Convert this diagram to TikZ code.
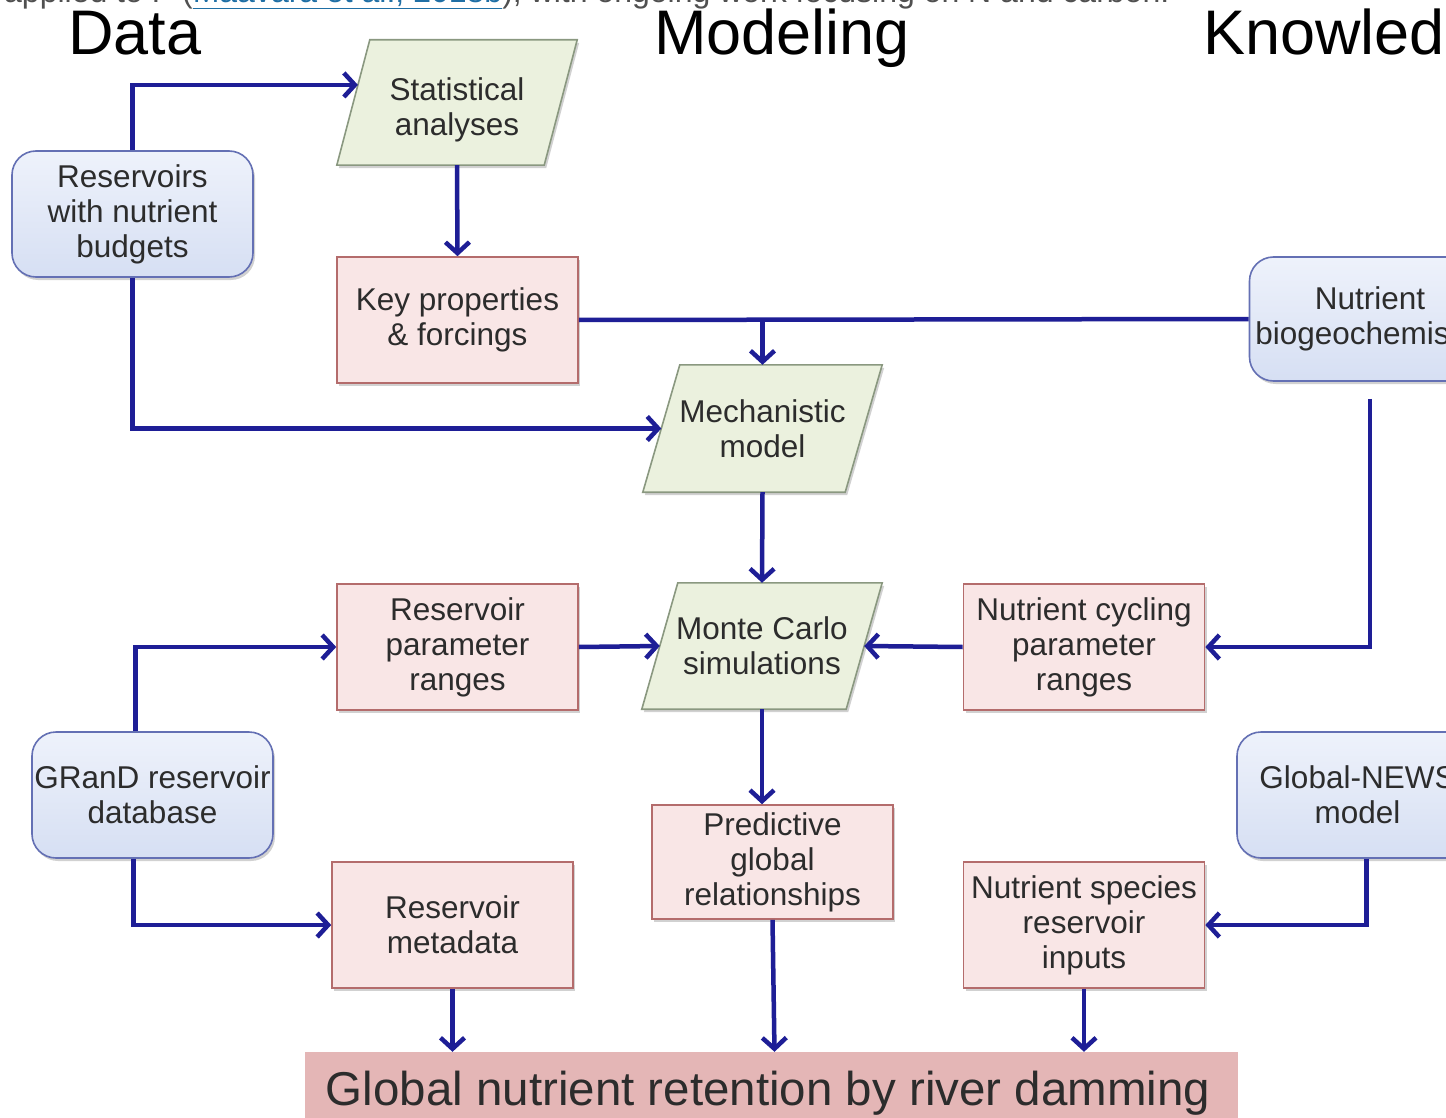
\documentclass[tikz,border=0pt]{standalone}
\usepackage{fontspec}
\setmainfont{Liberation Sans}
\usetikzlibrary{arrows.meta,calc,shadows,backgrounds}
\definecolor{arrowblue}{HTML}{1E1E96}
\definecolor{txt}{HTML}{2C2C2C}
\definecolor{pinkfill}{HTML}{F9E6E6}
\definecolor{pinkline}{HTML}{B46C6C}
\definecolor{bluetop}{HTML}{EEF2FB}
\definecolor{bluebot}{HTML}{D6DFF3}
\definecolor{blueline}{HTML}{6470B4}
\definecolor{greenfill}{HTML}{EBF1DE}
\definecolor{greenline}{HTML}{8A9880}
\definecolor{barfill}{HTML}{E4B6B6}
\definecolor{toptext}{HTML}{505050}
\definecolor{linkblue}{HTML}{1F6FA5}
\begin{document}
\begin{tikzpicture}[x=1pt,y=-1pt,
  soft/.style={drop shadow={shadow xshift=2pt,shadow yshift=-3pt,opacity=0.18,fill=black}},
  box/.style={rectangle,minimum width=241pt,minimum height=126pt,align=center,
    font=\fontsize{31.5}{35}\selectfont,text=txt,inner sep=0pt},
  pinkbox/.style={box,draw=pinkline,fill=pinkfill,line width=1.6pt,soft},
  bluebox/.style={box,rounded corners=24pt,draw=blueline,top color=bluetop,bottom color=bluebot,line width=1.6pt,soft},
  parabox/.style={box},
  parashape/.style={draw=greenline,fill=greenfill,line width=1.6pt,soft},
  conn/.style={draw=arrowblue,line width=4.5pt,line join=miter},
  arr/.style={conn,-{Straight Barb[length=11pt,width=24pt,line width=4.5pt]}},
  title/.style={font=\fontsize{63}{70}\selectfont,text=black,anchor=base,inner sep=0pt}
]
\useasboundingbox (0,0) rectangle (1446,1118);
\clip (0,0) rectangle (1446,1118);

% cut-off line of text at the top
\node[anchor=base west,inner sep=0pt,font=\fontsize{32}{36}\selectfont,text=toptext] (topline) at (4,3)
  {applied to P (\textcolor{linkblue}{\underline{Maavara et al., 2018b}}), with ongoing work focusing on N and carbon.};

% column titles
\node[title] (tdata) at (135,55) {Data};
\node[title] (tmodel) at (782,55) {Modeling};
\node[title,anchor=base west] (tknow) at (1203,55) {Knowledge};

% nodes
\node[bluebox] (resv) at (132.5,214) {Reservoirs\\with nutrient\\budgets};
\node[parabox] (stat) at (457,102.5) [minimum width=240pt,minimum height=125pt] {};
\node[box,minimum width=0pt,minimum height=0pt] (stattext) at (457,110) {Statistical\\analyses};
\node[pinkbox] (key) at (457.5,320) {\raisebox{-4pt}{Key properties}\\\raisebox{-4pt}{\& forcings}};
\node[bluebox] (nutbio) at (1370,319) [minimum height=124pt] {\raisebox{-4pt}{Nutrient}\\\raisebox{-4pt}{biogeochemistry}};
\node[parabox] (mech) at (762.5,428.5) [minimum width=239pt,minimum height=127pt] {\raisebox{-3pt}{Mechanistic}\\\raisebox{-3pt}{model}};
\node[parabox] (monte) at (762,646) [minimum width=240pt] {Monte Carlo\\simulations};
\node[pinkbox] (rparam) at (457.5,647) {Reservoir\\parameter\\ranges};
\node[pinkbox] (ncyc) at (1084,647) {Nutrient cycling\\parameter\\ranges};
\node[bluebox] (grand) at (152.5,795) {GRanD reservoir\\database};
\node[bluebox] (gnews) at (1357.5,795) {Global-NEWS\\model};
\node[pinkbox] (pred) at (772.5,862) [minimum height=114pt] {Predictive\\global\\relationships};
\node[pinkbox] (rmeta) at (452.5,925) {Reservoir\\metadata};
\node[pinkbox] (nspec) at (1084,925) {Nutrient species\\reservoir\\inputs};
\node[rectangle,fill=barfill,minimum width=933pt,minimum height=100pt,inner sep=0pt] (bar) at (771.5,1102) {};
\node[anchor=base,inner sep=0pt,font=\fontsize{47.5}{52}\selectfont,text=txt] (bartext) at (768,1105) {Global nutrient retention by river damming};

% white page and parallelogram outlines behind the texts
\begin{scope}[on background layer]
\fill[white] (0,0) rectangle (1446,1118);
\draw[parashape] ([xshift=33pt]stat.north west) -- (stat.north east) -- ([xshift=-33pt]stat.south east) -- (stat.south west) -- cycle;
\draw[parashape] ([xshift=37pt]mech.north west) -- (mech.north east) -- ([xshift=-37pt]mech.south east) -- (mech.south west) -- cycle;
\draw[parashape] ([xshift=36pt]monte.north west) -- (monte.north east) -- ([xshift=-36pt]monte.south east) -- (monte.south west) -- cycle;
\end{scope}

% entry points on parallelogram edges
\coordinate (statin) at ($(stat.south west)!0.64!([xshift=33pt]stat.north west)$);
\coordinate (mechin) at ($(mech.south west)!0.5!([xshift=37pt]mech.north west)$);
\coordinate (montein) at ($(monte.south west)!0.5!([xshift=36pt]monte.north west)$);
\coordinate (monteout) at ($(monte.north east)!0.5!([xshift=-36pt]monte.south east)$);
\coordinate (branch) at (mech.north |- key.east);
\coordinate (nbstart) at ([yshift=-17pt]nutbio.south);
\coordinate (grandtop) at ([xshift=-17pt]grand.north);
\coordinate (grandbot) at ([xshift=-19pt]grand.south);
\coordinate (gnewsbot) at ([xshift=9pt]gnews.south);

% connectors
\draw[arr] (resv.north) |- (statin);
\draw[arr] (stat.south) -- (key.north);
\draw[conn] (key.east) -- (nutbio.west);
\draw[arr] (branch) -- (mech.north);
\draw[arr] (resv.south) |- (mechin);
\draw[arr] (mech.south) -- (monte.north);
\draw[arr] (nbstart) |- (ncyc.east);
\draw[arr] (ncyc.west) -- (monteout);
\draw[arr] (rparam.east) -- (montein);
\draw[arr] (grandtop) |- (rparam.west);
\draw[arr] (grandbot) |- (rmeta.west);
\draw[arr] (monte.south) -- (monte.south |- pred.north);
\draw[arr] (gnewsbot) |- (nspec.east);
\draw[arr] (rmeta.south) -- (rmeta.south |- bar.north);
\draw[arr] (pred.south) -- ([xshift=2pt]pred.south |- bar.north);
\draw[arr] (nspec.south) -- (nspec.south |- bar.north);
\end{tikzpicture}
\end{document}
